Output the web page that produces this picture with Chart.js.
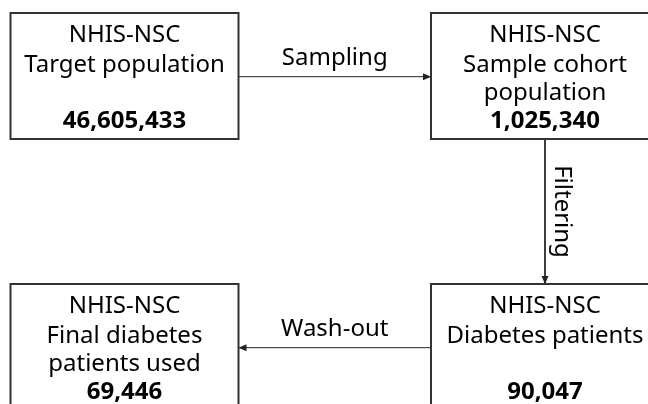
<!DOCTYPE html>
<html>
<head>
<meta charset="utf-8">
<script src="https://cdn.jsdelivr.net/npm/chart.js@4/dist/chart.umd.min.js"></script>
<style>
html,body{margin:0;padding:0;background:#fff;}
canvas{display:block;}
</style>
</head>
<body>
<canvas id="c" width="648" height="404"></canvas>
<script>
// ---- data ----
const nodeTitles = ["NHIS-NSC", "NHIS-NSC", "NHIS-NSC", "NHIS-NSC"];
const nodeLines = [
  ["Target population", ""],
  ["Sample cohort", "population"],
  ["Diabetes patients", ""],
  ["Final diabetes", "patients used"]
];
const nodeCounts = ["46,605,433", "1,025,340", "90,047", "69,446"];
const stepLabels = ["Sampling", "Filtering", "Wash-out"];
const stepFrom = [0, 1, 2];
const stepTo = [1, 2, 3];

// ---- layout (pixel-unit scale) ----
const W = 648, H = 404;
const boxW = 228, boxH = 126;
const boxCenters = [[124.5, 76], [545, 76], [545, 347], [124.5, 347]];
const FONT = "'Noto Sans', 'DejaVu Sans', sans-serif";
const FS = 24;
const lineCol = "#222";

function boxRect(i) {
  const [cx, cy] = boxCenters[i];
  return { l: cx - boxW / 2, r: cx + boxW / 2, t: cy - boxH / 2, b: cy + boxH / 2 };
}
function arrowPts(k) {
  const a = boxRect(stepFrom[k]), b = boxRect(stepTo[k]);
  const ca = boxCenters[stepFrom[k]], cb = boxCenters[stepTo[k]];
  if (Math.abs(ca[1] - cb[1]) < 1) {
    if (cb[0] > ca[0]) return [{ x: a.r, y: ca[1] + 0.7 }, { x: b.l, y: ca[1] + 0.7 }];
    return [{ x: a.l, y: ca[1] + 0.7 }, { x: b.r, y: ca[1] + 0.7 }];
  }
  return [{ x: ca[0], y: a.b }, { x: cb[0], y: b.t }];
}

const datasets = stepLabels.map((lab, k) => ({
  label: lab,
  data: arrowPts(k),
  showLine: true,
  borderColor: lineCol,
  borderWidth: 1,
  pointRadius: 0,
  fill: false
}));

const flowPlugin = {
  id: 'flow',
  afterDatasetsDraw(chart) {
    const ctx = chart.ctx;
    const xs = chart.scales.x, ys = chart.scales.y;
    const px = v => xs.getPixelForValue(v), py = v => ys.getPixelForValue(v);
    ctx.save();
    for (let i = 0; i < boxCenters.length; i++) {
      const r = boxRect(i);
      ctx.strokeStyle = "#333";
      ctx.lineWidth = 2;
      ctx.strokeRect(px(r.l), py(r.t), px(r.r) - px(r.l), py(r.b) - py(r.t));
      const cx = px(boxCenters[i][0]);
      const top = py(r.t);
      ctx.fillStyle = "#000";
      ctx.textAlign = "center";
      ctx.textBaseline = "alphabetic";
      ctx.font = FS + "px " + FONT;
      ctx.fillText(nodeTitles[i], cx, top + 29);
      ctx.fillText(nodeLines[i][0], cx, top + 59);
      if (nodeLines[i][1]) ctx.fillText(nodeLines[i][1], cx, top + 87);
      ctx.font = "bold " + FS + "px " + FONT;
      ctx.fillText(nodeCounts[i], cx, top + 115);
    }
    chart.data.datasets.forEach((ds, k) => {
      const meta = chart.getDatasetMeta(k);
      const p0 = meta.data[0], p1 = meta.data[1];
      const dx = p1.x - p0.x, dy = p1.y - p0.y;
      const len = Math.hypot(dx, dy);
      const ux = dx / len, uy = dy / len;
      const hl = 8, hw = 3.5;
      ctx.fillStyle = lineCol;
      ctx.beginPath();
      ctx.moveTo(p1.x, p1.y);
      ctx.lineTo(p1.x - ux * hl - uy * hw, p1.y - uy * hl + ux * hw);
      ctx.lineTo(p1.x - ux * hl + uy * hw, p1.y - uy * hl - ux * hw);
      ctx.closePath();
      ctx.fill();
      ctx.fillStyle = "#000";
      ctx.font = FS + "px " + FONT;
      ctx.textAlign = "center";
      if (Math.abs(dy) < 1) {
        ctx.textBaseline = "alphabetic";
        ctx.fillText(ds.label, (p0.x + p1.x) / 2, p0.y - 12);
      } else {
        ctx.save();
        ctx.translate(p0.x + 10, (p0.y + p1.y) / 2);
        ctx.rotate(Math.PI / 2);
        ctx.textBaseline = "alphabetic";
        ctx.fillText(ds.label, 0, 0);
        ctx.restore();
      }
    });
    ctx.restore();
  }
};

new Chart(document.getElementById('c'), {
  type: 'scatter',
  data: { datasets },
  options: {
    responsive: false,
    animation: false,
    events: [],
    layout: { padding: 0 },
    plugins: { legend: { display: false }, tooltip: { enabled: false } },
    scales: {
      x: { type: 'linear', min: 0, max: W, display: false },
      y: { type: 'linear', min: 0, max: H, reverse: true, display: false }
    }
  },
  plugins: [flowPlugin]
});
</script>
</body>
</html>
